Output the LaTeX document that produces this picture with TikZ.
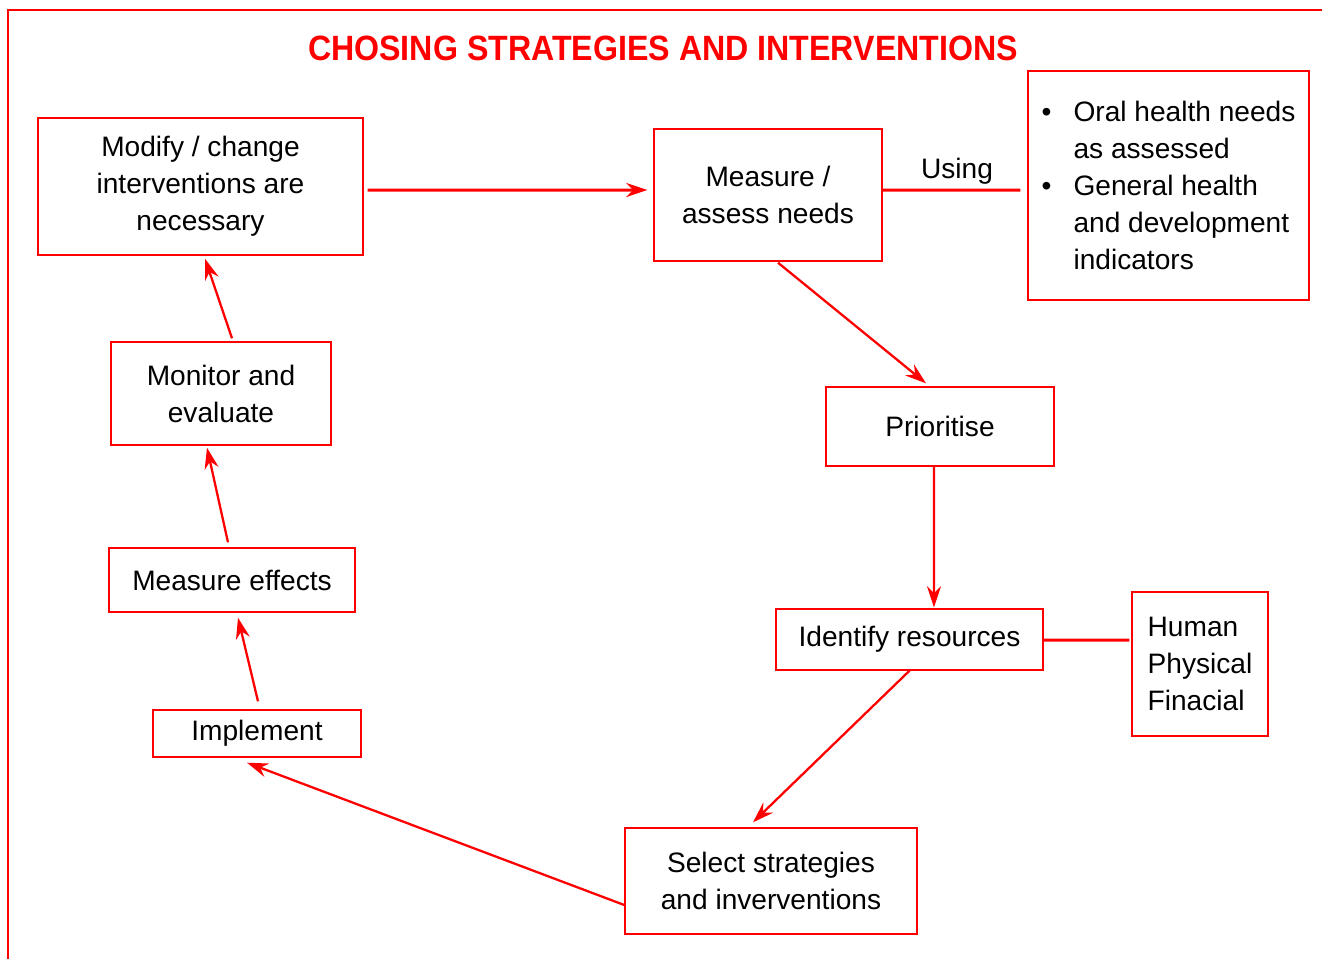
\documentclass[tikz,border=0pt]{standalone}
\usepackage{fontspec}
\usepackage{graphicx}
\setmainfont{Liberation Sans}
\usetikzlibrary{arrows.meta,calc}
\begin{document}
\begin{tikzpicture}[x=0.02cm, y=-0.02cm,
        box/.style={draw=red, line width=0.8pt, inner sep=0pt, align=center, font=\fontsize{16}{21}\selectfont},
        arr/.style={red, line width=1.3pt, -{Stealth[length=12pt, width=8pt, inset=4pt]}},
        link/.style={red, line width=1.7pt}]
            \useasboundingbox (0,0) rectangle (1322,958);
            \draw[red, line width=1.1pt] (1330,10) -- (8,10) -- (8,970);

            \node[text=red, font=\fontsize{20}{24}\selectfont\bfseries] (title) at (663,48) {\scalebox{0.915}[1]{CHOSING STRATEGIES AND INTERVENTIONS}};

            \node[box, minimum width=6.5cm, minimum height=2.74cm] (modify) at (200.5,186.5) {Modify / change\\interventions are\\necessary};
            \node[box, minimum width=4.56cm, minimum height=2.64cm] (measure) at (768,195) {Measure /\\assess needs};
            \node[box, minimum width=5.62cm, minimum height=4.58cm, align=left] (oral) at (1168.5,185.5) {\makebox[0.64cm][l]{\textbullet}Oral health needs\\\hspace*{0.64cm}as assessed\\\makebox[0.64cm][l]{\textbullet}General health\\\hspace*{0.64cm}and development\\\hspace*{0.64cm}indicators};
            \node[box, minimum width=4.56cm, minimum height=1.58cm] (prioritise) at (940,426.5) {Prioritise};
            \node[box, minimum width=2.72cm, minimum height=2.88cm, align=left] (human) at (1200,664) {Human\\Physical\\Finacial};
            \node[box, minimum width=5.34cm, minimum height=1.22cm] (identify) at (909.5,639.5) {Identify resources};
            \node[box, minimum width=5.84cm, minimum height=2.12cm] (select) at (771,881) {Select strategies\\and inverventions};
            \node[box, minimum width=4.16cm, minimum height=0.94cm] (implement) at (257,733.5) {Implement};
            \node[box, minimum width=4.92cm, minimum height=1.28cm] (effects) at (232,580) {Measure effects};
            \node[box, minimum width=4.4cm, minimum height=2.06cm] (monitor) at (221,393.5) {Monitor and\\evaluate};

            \draw[arr, line width=1.7pt] ($(modify.east)+(4,3.5)$) -- ($(measure.west)+(-6,-5)$);
            \draw[link] ($(measure.east)+(0,-5)$) -- ($(oral.west)+(-7,4.5)$);
            \node[font=\fontsize{16}{21}\selectfont] (using) at (957,171) {Using};
            \draw[arr] ($(measure.south)+(10,1)$) -- ($(prioritise.north)+(-14,-3)$);
            \draw[arr] ($(prioritise.south)+(-6,0)$) -- ($(identify.north)+(24.5,-1)$);
            \draw[link] ($(identify.east)+(0,0.5)$) -- ($(human.west)+(-2,-24)$);
            \draw[arr] (identify.south) -- ($(select.north)+(-18,-5)$);
            \draw[arr] ($(select.west)+(0,24)$) -- ($(implement.south)+(-10,5)$);
            \draw[arr] ($(implement.north)+(1,-8)$) -- ($(effects.south)+(6,5)$);
            \draw[arr] ($(effects.north)+(-4,-5)$) -- ($(monitor.south)+(-14,2)$);
            \draw[arr] ($(monitor.north)+(11,-3)$) -- ($(modify.south)+(4.5,3)$);
        \end{tikzpicture}
\end{document}
